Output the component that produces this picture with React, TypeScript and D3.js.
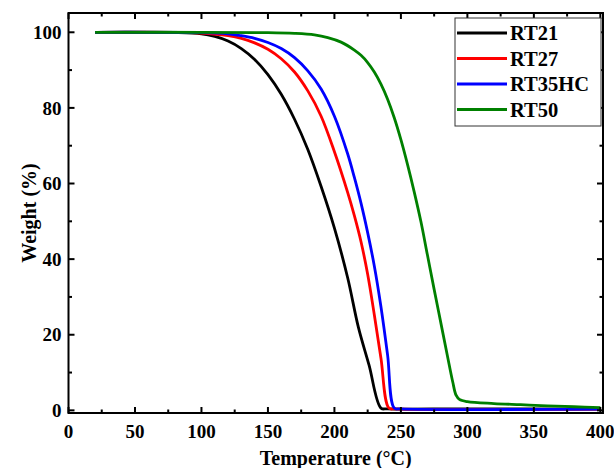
import React from "react";
import * as d3 from "d3";

const seriesNames = ["RT21", "RT27", "RT35HC", "RT50"];
const seriesColors = ["#000000", "#ff0000", "#0000ff", "#008000"];

const rt21: [number, number][] = [
  [20, 100], [60, 100], [80, 99.95], [100, 99.6], [110, 98.9], [120, 97.7], [130, 95.7],
  [140, 92.8], [150, 88.8], [160, 83.6], [170, 77], [180, 69], [190, 59.2], [200, 48.2],
  [210, 35], [218, 22], [226, 12], [235, 0.6], [240, 0.4], [300, 0.4], [400, 0.3],
];
const rt27: [number, number][] = [
  [20, 100], [80, 100], [100, 99.8], [120, 99.1], [130, 98.4], [140, 97.2], [150, 95.5],
  [160, 93], [170, 89.5], [180, 84.5], [190, 77.8], [200, 68.4], [210, 57.6], [215, 51.5],
  [220, 44.6], [225, 36], [230, 25.3], [235, 13.8], [241, 0.6], [246, 0.4], [400, 0.3],
];
const rt35hc: [number, number][] = [
  [20, 100], [100, 99.9], [120, 99.6], [130, 99.1], [140, 98.4], [150, 97.3], [160, 95.7],
  [170, 93.3], [180, 89.8], [190, 85], [200, 77.8], [210, 67.8], [215, 61.6], [220, 54.8],
  [225, 47], [230, 38.2], [235, 27.4], [240, 14.6], [245, 0.6], [250, 0.4], [400, 0.3],
];
const rt50: [number, number][] = [
  [20, 100], [100, 100], [150, 99.9], [170, 99.7], [185, 99.3], [195, 98.6], [205, 97.4],
  [215, 95.3], [220, 93.9], [225, 92], [230, 89.5], [235, 86.3], [240, 82.3], [245, 77.4],
  [250, 71.6], [255, 65], [260, 57.8], [265, 50], [270, 41], [275, 32], [280, 23.2],
  [285, 14.4], [289, 7.5], [291.5, 4], [294, 2.9], [300, 2.3], [320, 1.8], [340, 1.5],
  [360, 1.2], [380, 0.95], [400, 0.7],
];
const seriesData = [rt21, rt27, rt35hc, rt50];

const xMajorTicks = [0, 50, 100, 150, 200, 250, 300, 350, 400];
const xMinorTicks = [25, 75, 125, 175, 225, 275, 325, 375];
const yMajorTicks = [0, 20, 40, 60, 80, 100];
const yMinorTicks = [10, 30, 50, 70, 90];

const W = 614;
const H = 468;
const left = 68.5;
const right = 603;
const top = 13;
const bottom = 413;

export default function App() {
  const x = d3.scaleLinear().domain([0, 402]).range([left, right]);
  const y = d3.scaleLinear().domain([-0.7, 105.1]).range([bottom, top]);
  const line = d3
    .line<[number, number]>()
    .x((d) => x(d[0]))
    .y((d) => y(d[1]))
    .curve(d3.curveCatmullRom.alpha(0.5));
  const font = "'Liberation Serif', 'Times New Roman', serif";
  const legendX = 455;
  const legendY = 18;

  return (
    <svg
      width={W}
      height={H}
      style={{ position: "absolute", left: 0, top: 0, background: "#fff" }}
      fontFamily={font}
      fontWeight="bold"
    >
      <rect x={0} y={0} width={W} height={H} fill="#fff" />
      {seriesData.map((d, i) => (
        <path
          key={seriesNames[i]}
          d={line(d) || ""}
          fill="none"
          stroke={seriesColors[i]}
          strokeWidth={2.8}
          strokeLinejoin="round"
        />
      ))}
      <rect x={left} y={top} width={right - left} height={bottom - top} fill="none" stroke="#000" strokeWidth={2} />
      {xMajorTicks.map((t) => (
        <g key={"xM" + t}>
          <line x1={x(t)} x2={x(t)} y1={bottom} y2={bottom - 6} stroke="#000" strokeWidth={2} />
          <line x1={x(t)} x2={x(t)} y1={top} y2={top + 6} stroke="#000" strokeWidth={2} />
          <text x={x(t)} y={bottom + 25} textAnchor="middle" fontSize={19}>
            {t}
          </text>
        </g>
      ))}
      {xMinorTicks.map((t) => (
        <g key={"xm" + t}>
          <line x1={x(t)} x2={x(t)} y1={bottom} y2={bottom - 3.5} stroke="#000" strokeWidth={2} />
          <line x1={x(t)} x2={x(t)} y1={top} y2={top + 3.5} stroke="#000" strokeWidth={2} />
        </g>
      ))}
      {yMajorTicks.map((t) => (
        <g key={"yM" + t}>
          <line x1={left} x2={left + 6} y1={y(t)} y2={y(t)} stroke="#000" strokeWidth={2} />
          <line x1={right} x2={right - 6} y1={y(t)} y2={y(t)} stroke="#000" strokeWidth={2} />
          <text x={left - 7} y={y(t)} dy="0.35em" textAnchor="end" fontSize={19}>
            {t}
          </text>
        </g>
      ))}
      {yMinorTicks.map((t) => (
        <g key={"ym" + t}>
          <line x1={left} x2={left + 3.5} y1={y(t)} y2={y(t)} stroke="#000" strokeWidth={2} />
          <line x1={right} x2={right - 3.5} y1={y(t)} y2={y(t)} stroke="#000" strokeWidth={2} />
        </g>
      ))}
      <text x={(left + right) / 2} y={465} textAnchor="middle" fontSize={20}>
        Temperature (°C)
      </text>
      <text
        transform={`translate(36, ${(top + bottom) / 2}) rotate(-90)`}
        textAnchor="middle"
        fontSize={20}
      >
        Weight (%)
      </text>
      <rect x={legendX} y={legendY} width={146} height={108} fill="#fff" stroke="#333" strokeWidth={1} />
      {seriesNames.map((name, i) => (
        <g key={"lg" + name}>
          <line
            x1={legendX + 2}
            x2={legendX + 52}
            y1={legendY + 15 + i * 25.5}
            y2={legendY + 15 + i * 25.5}
            stroke={seriesColors[i]}
            strokeWidth={2.8}
          />
          <text x={legendX + 55} y={legendY + 15 + i * 25.5} dy="0.35em" fontSize={20.5}>
            {name}
          </text>
        </g>
      ))}
    </svg>
  );
}
